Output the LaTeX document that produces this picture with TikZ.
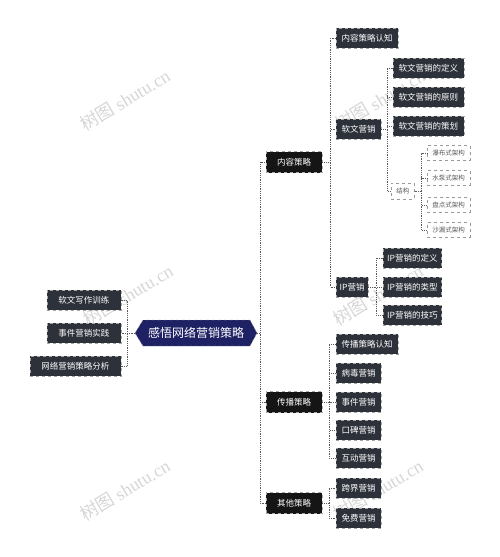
\documentclass[tikz,border=0pt]{standalone}
\usepackage{fontspec}
\setmainfont{Noto Sans CJK SC}
\newfontfamily\wmserif{Liberation Serif}
\usetikzlibrary{positioning}
\definecolor{navy}{HTML}{1E2163}
\definecolor{boxdark}{HTML}{2D313A}
\definecolor{boxblack}{HTML}{151515}
\definecolor{lineg}{HTML}{5A5A5A}
\definecolor{wm}{HTML}{D6D6D6}
\tikzset{
  base/.style={font=\fontsize{8.5}{9}\selectfont, text=white, inner ysep=0pt, minimum height=20pt, draw=gray!70, dashed, line width=0.4pt, anchor=west},
  leaf/.style={base, fill=boxdark, inner xsep=5.5pt},
  lefty/.style={base, fill=boxdark, inner xsep=11.5pt, anchor=east},
  lvlone/.style={base, fill=boxblack, inner xsep=11pt, minimum height=21pt},
  wbox/.style={font=\fontsize{6.5}{7}\selectfont, text=black!65, fill=white, draw=gray!80, dashed, line width=0.5pt, inner xsep=5pt, inner ysep=0pt, minimum height=15pt, anchor=west},
  conn/.style={draw=lineg, densely dotted, line width=0.8pt},
  wmark/.style={text=wm, rotate=31, font=\fontsize{18}{19}\selectfont}
}
\begin{document}
\begin{tikzpicture}[x=1pt,y=-1pt]
\useasboundingbox (0,0) rectangle (500,557);
% watermarks
\foreach \wx/\wy in {125/100, 380/100, 128/295, 378/295, 125/490, 378/490}
  \node[wmark] (w\wx\wy) at (\wx,\wy) {树图 {\wmserif shutu.cn}};
% root
\fill[navy] (135,333) -- (143,320) -- (250,320) -- (257,333) -- (250,346) -- (143,346) -- cycle;
\draw[gray!70, dashed, line width=0.4pt] (135,333) -- (143,320) -- (250,320) -- (257,333) -- (250,346) -- (143,346) -- cycle;
\node[text=white, font=\fontsize{12}{13}\selectfont] (root) at (196,333) {感悟网络营销策略};
\coordinate (rootL) at (135,333);
\coordinate (rootR) at (257,333);
% left
\node[lefty] (a1) at (121,300) {软文写作训练};
\node[lefty] (a2) at (121,333) {事件营销实践};
\node[lefty] (a3) at (121,366) {网络营销策略分析};
% level 1
\node[lvlone] (b1) at (266,162) {内容策略};
\node[lvlone] (b2) at (266,402) {传播策略};
\node[lvlone] (b3) at (266,503) {其他策略};
% content strategy
\node[leaf] (c1) at (336,38) {内容策略认知};
\node[leaf] (c2) at (336,129) {软文营销};
\node[leaf, inner xsep=3.5pt] (c3) at (336,287) {IP营销};
\node[leaf] (d1) at (393,68) {软文营销的定义};
\node[leaf] (d2) at (393,97) {软文营销的原则};
\node[leaf] (d3) at (393,126) {软文营销的策划};
\node[wbox, minimum height=16pt] (d4) at (391,191) {结构};
\node[wbox] (e1) at (427,153) {瀑布式架构};
\node[wbox] (e2) at (427,178) {水泵式架构};
\node[wbox] (e3) at (427,205) {盘点式架构};
\node[wbox] (e4) at (427,230) {沙漏式架构};
\node[leaf, inner xsep=4pt] (f1) at (383,258) {IP营销的定义};
\node[leaf, inner xsep=4pt] (f2) at (383,287) {IP营销的类型};
\node[leaf, inner xsep=4pt] (f3) at (383,315) {IP营销的技巧};
% spread strategy
\node[leaf] (g1) at (336,344) {传播策略认知};
\node[leaf] (g2) at (336,373) {病毒营销};
\node[leaf] (g3) at (336,402) {事件营销};
\node[leaf] (g4) at (336,430) {口碑营销};
\node[leaf] (g5) at (336,458) {互动营销};
% other strategy
\node[leaf] (h1) at (336,488) {跨界营销};
\node[leaf] (h2) at (336,518) {免费营销};
% connectors
\foreach \c in {a1,a2,a3} \draw[conn] (rootL) -- ++(-8,0) |- (\c.east);
\foreach \c in {b1,b2,b3} \draw[conn] (rootR) -- ++(3,0) |- (\c.west);
\foreach \c in {c1,c2,c3} \draw[conn] (b1.east) -- ++(8,0) |- (\c.west);
\foreach \c in {d1,d2,d3,d4} \draw[conn] (c2.east) -- ++(6,0) |- (\c.west);
\foreach \c in {e1,e2,e3,e4} \draw[conn] (d4.east) -- ++(7,0) |- (\c.west);
\foreach \c in {f1,f2,f3} \draw[conn] (c3.east) -- ++(8,0) |- (\c.west);
\foreach \c in {g1,g2,g3,g4,g5} \draw[conn] (b2.east) -- ++(7,0) |- (\c.west);
\foreach \c in {h1,h2} \draw[conn] (b3.east) -- ++(7,0) |- (\c.west);
\end{tikzpicture}
\end{document}
